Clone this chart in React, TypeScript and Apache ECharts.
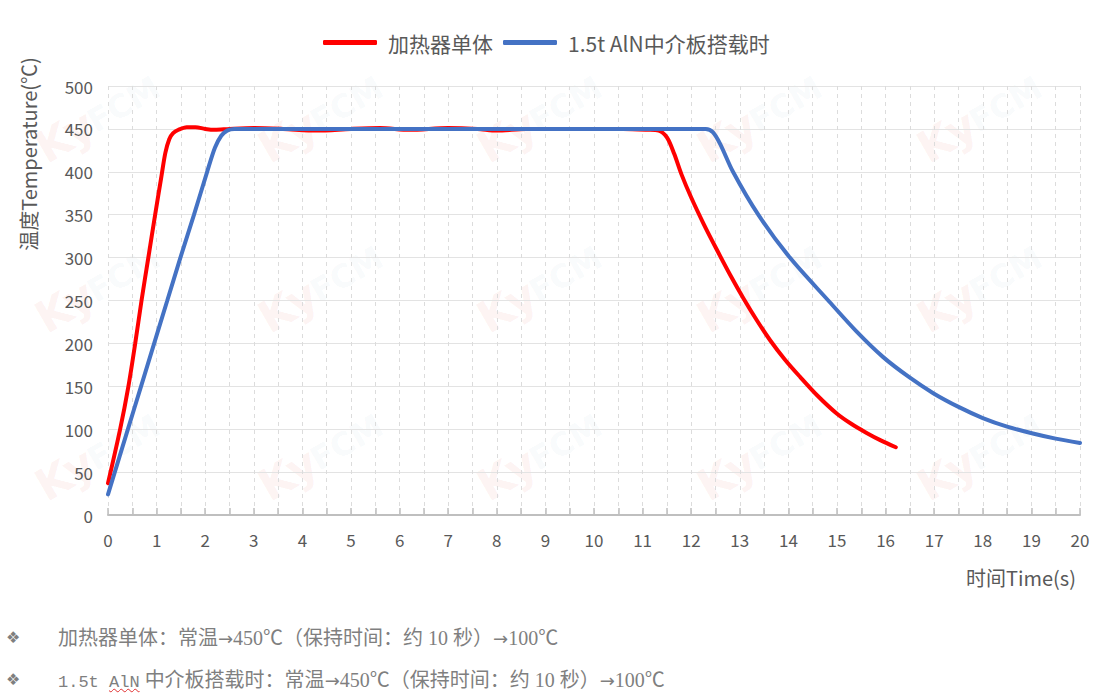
import React, { useEffect, useRef } from "react";
import * as echarts from "echarts";

// ---- data ----
const seriesNames = ["加热器单体", "1.5t AlN中介板搭载时"];

const heaterTime = [0, 0.25, 0.42, 0.56, 0.69, 0.83, 0.97, 1.1, 1.18, 1.26, 1.34, 1.45, 1.62, 1.8, 2.0, 2.2, 2.5, 3, 3.6, 4.3, 5, 5.6, 6.2, 7, 7.6, 8, 8.6, 9.3, 10, 10.6, 11.1, 11.33, 11.5, 11.65, 11.8, 12.0, 12.25, 12.52, 12.8, 13.07, 13.35, 13.62, 13.93, 14.24, 14.6, 15.0, 15.3, 15.6, 15.9, 16.21];
const heaterTemp = [37, 100, 150, 200, 250, 300, 350, 395, 422, 438, 445, 449, 452, 452, 450, 449, 450, 451, 450, 448, 450, 451, 449, 451, 450, 448, 450, 450, 450, 450, 449, 448, 440, 421, 397, 370, 340, 310, 280, 253, 227, 204, 181, 161, 139, 118, 106, 96, 87, 79];

const stageTime = [0, 0.41, 0.68, 0.95, 1.22, 1.49, 1.77, 2.04, 2.2, 2.33, 2.45, 2.6, 3, 4, 5, 6, 7, 8, 9, 10, 11, 12, 12.3, 12.45, 12.6, 12.86, 13.38, 14.03, 14.82, 15.4, 15.95, 16.5, 16.98, 17.5, 18.0, 18.5, 19.03, 19.5, 20];
const stageTemp = [24, 100, 150, 200, 250, 300, 350, 400, 428, 442, 448, 450, 450, 450, 450, 450, 450, 450, 450, 450, 450, 450, 450, 446, 432, 400, 350, 300, 250, 214, 184, 160, 142, 126, 113, 103, 95, 89, 84];

const xAxisName = "时间Time(s)";
const yAxisName = "温度Temperature(℃)";
const noteLine1Parts = ["加热器单体：常温", "→", "450℃（保持时间：约 10 秒）", "→", "100℃"];
const noteLine2Latin = "1.5t";
const noteLine2Word = "AlN";
const noteLine2Parts = ["中介板搭载时：常温", "→", "450℃（保持时间：约 10 秒）", "→", "100℃"];

const zip = (xs: number[], ys: number[]) => xs.map((x, i) => [x, ys[i]]);

const FONT = "'Noto Sans CJK SC', 'Noto Sans', sans-serif";
const TEXT_COLOR = "#595959";

function buildWatermarks() {
  const items: any[] = [];
  const rows = [170, 340, 508];
  const cols = [50, 273, 492, 712, 932];
  for (const y of rows) {
    for (const x of cols) {
      items.push({
        type: "group",
        x,
        y,
        rotation: Math.PI / 6,
        silent: true,
        z: 0,
        children: [
          {
            type: "text",
            x: 0,
            y: 0,
            style: {
              text: "Ky",
              fontSize: 44,
              fontWeight: "bold",
              fontFamily: "'DejaVu Sans'",
              fill: "rgba(235,90,70,0.075)",
              verticalAlign: "bottom",
            },
          },
          {
            type: "text",
            x: 58,
            y: -4,
            style: {
              text: "FCM",
              fontSize: 32,
              fontWeight: "bold",
              fontFamily: "'DejaVu Sans'",
              fill: "rgba(90,130,180,0.055)",
              verticalAlign: "bottom",
            },
          },
        ],
      });
    }
  }
  return items;
}

export default function App() {
  const ref = useRef<HTMLDivElement>(null);

  useEffect(() => {
    if (!ref.current) return;
    const chart = echarts.init(ref.current, undefined, { renderer: "svg" });
    chart.setOption({
      animation: false,
      backgroundColor: "#ffffff",
      textStyle: { fontFamily: FONT },
      legend: {
        show: true,
        left: 318,
        top: 27,
        icon: "roundRect",
        itemWidth: 54,
        itemHeight: 5,
        itemGap: 10,
        selectedMode: false,
        textStyle: { fontSize: 21, color: TEXT_COLOR, fontFamily: FONT, padding: [0, 0, 0, 6] },
        data: seriesNames,
      },
      grid: { left: 108, right: 35, top: 86, bottom: 180, containLabel: false },
      xAxis: {
        type: "value",
        min: 0,
        max: 20,
        interval: 0.5,
        axisLine: { show: true, lineStyle: { color: "#bfbfbf", width: 2 } },
        axisTick: { show: true, inside: true, length: 7, lineStyle: { color: "#bfbfbf", width: 1.5 } },
        axisLabel: {
          fontSize: 17,
          color: TEXT_COLOR,
          margin: 16,
          fontFamily: FONT,
          formatter: (v: number) => (Math.abs(v - Math.round(v)) < 1e-6 ? String(Math.round(v)) : ""),
        },
        splitLine: { show: true, lineStyle: { type: [4, 4], color: "#dcdcdc", width: 1 } },
      },
      yAxis: {
        type: "value",
        min: 0,
        max: 500,
        interval: 50,
        axisLine: { show: false },
        axisTick: { show: false },
        axisLabel: { fontSize: 17, color: TEXT_COLOR, margin: 15, fontFamily: FONT },
        splitLine: { show: true, lineStyle: { color: "#e3e3e3", width: 1 } },
      },
      graphic: [
        ...buildWatermarks(),
        {
          type: "text",
          x: 28,
          y: 154,
          rotation: Math.PI / 2,
          style: {
            text: yAxisName,
            fontSize: 20,
            fontFamily: FONT,
            fill: TEXT_COLOR,
            align: "center",
            verticalAlign: "middle",
          },
        },
        {
          type: "text",
          x: 1076,
          y: 577,
          style: {
            text: xAxisName,
            fontSize: 20,
            fontFamily: FONT,
            fill: TEXT_COLOR,
            align: "right",
            verticalAlign: "middle",
          },
        },
      ],
      series: [
        {
          name: seriesNames[0],
          type: "line",
          data: zip(heaterTime, heaterTemp),
          showSymbol: false,
          symbol: "none",
          smooth: 0.3,
          color: "#ff0000",
          lineStyle: { width: 4, color: "#ff0000", cap: "round" },
          z: 3,
        },
        {
          name: seriesNames[1],
          type: "line",
          data: zip(stageTime, stageTemp),
          showSymbol: false,
          symbol: "none",
          smooth: 0.3,
          color: "#4472c4",
          lineStyle: { width: 4, color: "#4472c4", cap: "round" },
          z: 4,
        },
      ],
    });
    return () => chart.dispose();
  }, []);

  const noteStyle: React.CSSProperties = {
    position: "absolute",
    left: 58,
    fontSize: 20,
    lineHeight: "24px",
    color: "#7f7f7f",
    fontFamily: "'Liberation Serif', 'Noto Sans CJK SC', serif",
    whiteSpace: "nowrap",
  };
  const bulletStyle: React.CSSProperties = {
    position: "absolute",
    left: 6,
    fontSize: 16,
    lineHeight: "24px",
    color: "#7f7f7f",
    fontFamily: "'DejaVu Sans', sans-serif",
  };
  const arrowStyle: React.CSSProperties = { fontFamily: "'DejaVu Sans', sans-serif", fontSize: 18 };

  const renderParts = (parts: string[]) =>
    parts.map((p, i) =>
      p === "→" ? (
        <span key={i} style={arrowStyle}>
          {p}
        </span>
      ) : (
        <span key={i}>{p}</span>
      )
    );

  return (
    <div style={{ position: "fixed", left: 0, top: 0, width: 1115, height: 695, background: "#fff", overflow: "hidden" }}>
      <div ref={ref} style={{ position: "absolute", left: 0, top: 0, width: 1115, height: 695 }} />
      <div style={{ ...bulletStyle, top: 626 }}>❖</div>
      <div style={{ ...noteStyle, top: 626 }}>{renderParts(noteLine1Parts)}</div>
      <div style={{ ...bulletStyle, top: 668 }}>❖</div>
      <div style={{ ...noteStyle, top: 668 }}>
        <span style={{ fontFamily: "'Liberation Mono', monospace", fontSize: 17 }}>{noteLine2Latin} </span>
        <span
          style={{
            fontFamily: "'Liberation Mono', monospace",
            fontSize: 17,
            textDecoration: "underline wavy #e03030",
            textDecorationThickness: "1px",
          }}
        >
          {noteLine2Word}
        </span>
        <span> </span>
        {renderParts(noteLine2Parts)}
      </div>
    </div>
  );
}
